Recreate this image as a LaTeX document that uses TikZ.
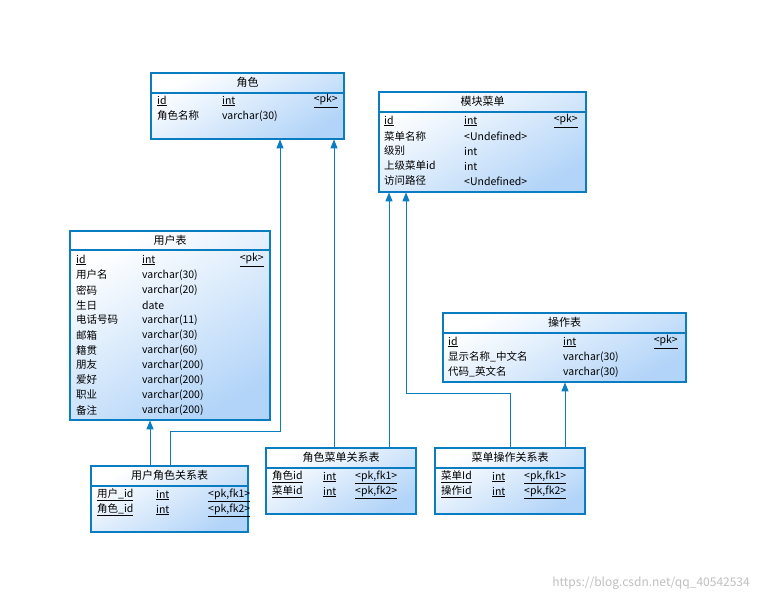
\documentclass[tikz,border=0pt]{standalone}
\usepackage{fontspec}
\setmainfont{Noto Sans CJK SC}
\usetikzlibrary{arrows.meta}
\definecolor{ln}{HTML}{0A7CC1}
\definecolor{bl}{HTML}{B2D4F8}
\tikzset{
 tbl/.style={draw=ln,line width=1.1pt,top color=white,bottom color=bl,shading angle=30,inner sep=0},
 hd/.style={font=\fontsize{11}{11}\selectfont,anchor=center,inner sep=0},
 tx/.style={font=\fontsize{10.5}{10.5}\selectfont,anchor=west,inner sep=0},
 tr/.style={font=\fontsize{10.5}{10.5}\selectfont,anchor=east,inner sep=0},
 con/.style={draw=ln,line width=1pt,-{Triangle[length=9pt,width=7pt]}}
}
\newcommand{\tab}[6]{% name, x1,y1,x2,y2, headline y
 \path[tbl] (#2,#3) rectangle (#4,#5);
 \node[minimum width=#4pt-#2pt,minimum height=#5pt-#3pt,inner sep=0,anchor=north west] (#1) at (#2,#3) {};
 \draw[ln,line width=1.1pt] (#2,#6) -- (#4,#6);}
\begin{document}
\begin{tikzpicture}[x=1pt,y=-1pt]
\useasboundingbox (0,0) rectangle (758,603);
% 角色
\tab{role}{151}{73}{344}{139}{93}
\node[hd] at (247.5,82) {角色};
\node[tx] at (157,101) {\underline{id}}; \node[tx] at (222,101) {\underline{int}}; \node[tr] at (338,101) {\underline{<pk>}};
\node[tx] at (157,116) {角色名称}; \node[tx] at (222,116) {varchar(30)};
% 模块菜单
\tab{menu}{379}{92}{586}{192}{112}
\node[hd] at (482.5,101) {模块菜单};
\node[tx] at (384,121) {\underline{id}}; \node[tx] at (464,121) {\underline{int}}; \node[tr] at (578,121) {\underline{<pk>}};
\node[tx] at (384,136) {菜单名称}; \node[tx] at (464,136) {<Undefined>};
\node[tx] at (384,151) {级别}; \node[tx] at (464,151) {int};
\node[tx] at (384,166) {上级菜单id}; \node[tx] at (464,166) {int};
\node[tx] at (384,181) {访问路径}; \node[tx] at (464,181) {<Undefined>};
% 用户表
\tab{user}{70}{231}{270}{420}{250}
\node[hd] at (170,240) {用户表};
\node[tx] at (76,260) {\underline{id}}; \node[tx] at (142,260) {\underline{int}}; \node[tr] at (264,260) {\underline{<pk>}};
\foreach \a/\b [count=\i] in {用户名/varchar(30),密码/varchar(20),生日/date,电话号码/varchar(11),邮箱/varchar(30),籍贯/varchar(60),朋友/varchar(200),爱好/varchar(200),职业/varchar(200),备注/varchar(200)}{
 \node[tx] at (76,260+15*\i) {\a}; \node[tx] at (142,260+15*\i) {\b};}
% 操作表
\tab{op}{443}{313}{686}{382}{333}
\node[hd] at (564.5,322) {操作表};
\node[tx] at (448,342) {\underline{id}}; \node[tx] at (563,342) {\underline{int}}; \node[tr] at (678,342) {\underline{<pk>}};
\node[tx] at (448,357) {显示名称\_中文名}; \node[tx] at (563,357) {varchar(30)};
\node[tx] at (448,372) {代码\_英文名}; \node[tx] at (563,372) {varchar(30)};
% 用户角色关系表
\tab{ur}{91}{466}{248}{532}{486}
\node[hd] at (169.5,475) {用户角色关系表};
\node[tx] at (97,495) {\underline{用户\_id}}; \node[tx] at (156,495) {\underline{int}}; \node[tx] at (208,495) {\underline{<pk,fk1>}};
\node[tx] at (97,510) {\underline{角色\_id}}; \node[tx] at (156,510) {\underline{int}}; \node[tx] at (208,510) {\underline{<pk,fk2>}};
% 角色菜单关系表
\tab{rm}{266}{448}{416}{514}{468}
\node[hd] at (341,457) {角色菜单关系表};
\node[tx] at (272,477) {\underline{角色id}}; \node[tx] at (323,477) {\underline{int}}; \node[tx] at (355,477) {\underline{<pk,fk1>}};
\node[tx] at (272,492) {\underline{菜单id}}; \node[tx] at (323,492) {\underline{int}}; \node[tx] at (355,492) {\underline{<pk,fk2>}};
% 菜单操作关系表
\tab{mo}{435}{448}{585}{514}{468}
\node[hd] at (510,457) {菜单操作关系表};
\node[tx] at (441,477) {\underline{菜单Id}}; \node[tx] at (492,477) {\underline{int}}; \node[tx] at (524,477) {\underline{<pk,fk1>}};
\node[tx] at (441,492) {\underline{操作id}}; \node[tx] at (492,492) {\underline{int}}; \node[tx] at (524,492) {\underline{<pk,fk2>}};
% connectors
\draw[con] (ur.north -| 150,0) -- (user.south -| 150,0);
\draw[con] (ur.north -| 170,0) -- (170,431) -- (280,431) -- (role.south -| 280,0);
\draw[con] (rm.north -| 334,0) -- (role.south -| 334,0);
\draw[con] (rm.north -| 389,0) -- (menu.south -| 389,0);
\draw[con] (mo.north -| 510,0) -- (510,393) -- (406,393) -- (menu.south -| 406,0);
\draw[con] (mo.north -| 565,0) -- (op.south -| 565,0);
\node[font=\fontsize{12}{12}\selectfont,text=black!25,anchor=east,inner sep=0] (wm) at (750,583) {https://blog.csdn.net/qq\_40542534};
\end{tikzpicture}
\end{document}
